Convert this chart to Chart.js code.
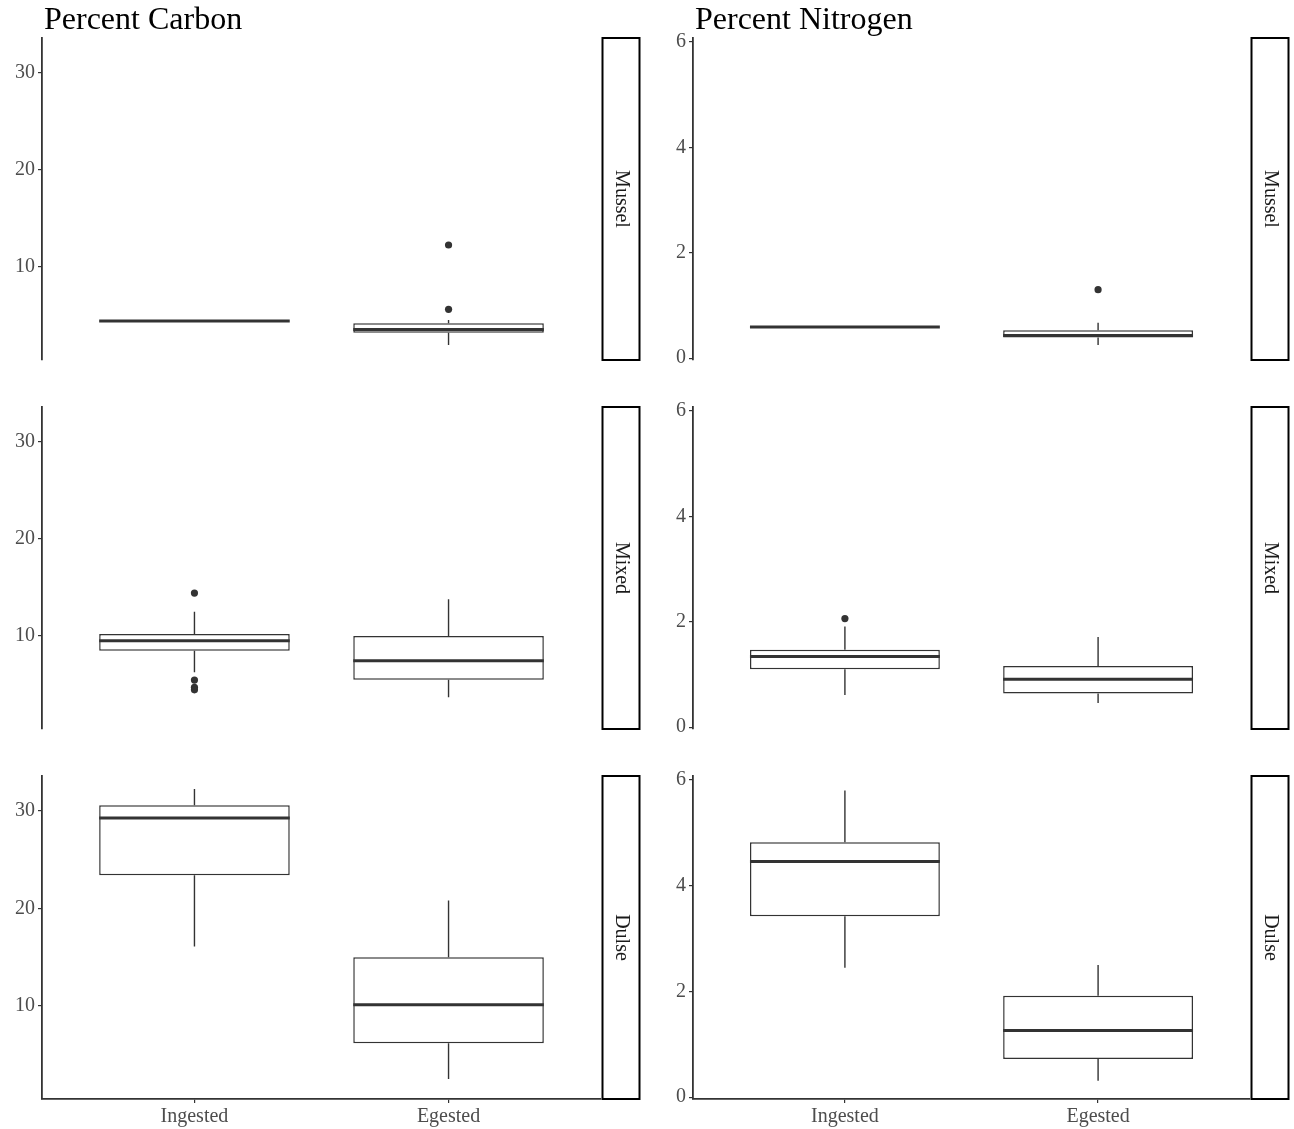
<!DOCTYPE html>
<html>
<head>
<meta charset="utf-8">
<script src="https://cdn.jsdelivr.net/npm/chart.js@4.4.1/dist/chart.umd.min.js"></script>
<style>
  html, body { margin: 0; padding: 0; background: #ffffff; }
  #fig { position: relative; width: 1294px; height: 1129px; overflow: hidden; background: #ffffff; }
  #fig canvas { position: absolute; }
</style>
</head>
<body>
<div id="fig"></div>
<script>
// ---- data -------------------------------------------------------------
const groups = ['Ingested', 'Egested'];
const facets = ['Mussel', 'Mixed', 'Dulse'];
const carbonTicks = [10, 20, 30];
const nitrogenTicks = [0, 2, 4, 6];

// Box-plot summaries: one row per facet (Mussel, Mixed, Dulse),
// one column per group (Ingested, Egested).
const carbonLow  = [[4.45, 1.96], [6.26, 3.68], [16.08, 2.47]];
const carbonQ1   = [[4.45, 3.23], [8.48, 5.50], [23.40, 6.15]];
const carbonMed  = [[4.45, 3.55], [9.52, 7.45], [29.28, 10.10]];
const carbonQ3   = [[4.45, 4.20], [10.20, 10.00], [30.60, 14.98]];
const carbonHigh = [[4.45, 4.54], [12.50, 13.80], [32.27, 20.80]];
const carbonOutliers = [[[], [5.64, 12.27]], [[14.43, 5.46, 4.71, 4.46], []], [[], []]];

const nitrogenLow  = [[0.59, 0.25], [0.61, 0.46], [2.45, 0.31]];
const nitrogenQ1   = [[0.59, 0.39], [1.10, 0.64], [3.42, 0.72]];
const nitrogenMed  = [[0.59, 0.43], [1.34, 0.91], [4.46, 1.26]];
const nitrogenQ3   = [[0.59, 0.53], [1.47, 1.16], [4.82, 1.92]];
const nitrogenHigh = [[0.59, 0.67], [1.91, 1.71], [5.80, 2.50]];
const nitrogenOutliers = [[[], [1.30]], [[2.06], []], [[], []]];

// ---- layout / style ---------------------------------------------------
const FONT = "'Liberation Serif', 'Times New Roman', serif";
const INK = '#333333';
const TICK_TEXT = '#4d4d4d';
const BOX_WIDTH = 0.75;
const Y_AXIS_W = 40;
const X_AXIS_H = 30;

const COLS = [
  { left: 0,   width: 647, areaLeft: 42,  areaRight: 601 },
  { left: 647, width: 647, areaLeft: 693, areaRight: 1250 }
];
const ROWS = [
  { top: 0,   height: 384, areaTop: 38,  areaBottom: 360 },
  { top: 384, height: 368, areaTop: 407, areaBottom: 729 },
  { top: 752, height: 377, areaTop: 776, areaBottom: 1099 }
];

const measures = [
  { title: 'Percent Carbon', ticks: carbonTicks, min: 0.42, max: 33.6,
    low: carbonLow, q1: carbonQ1, med: carbonMed, q3: carbonQ3, high: carbonHigh, out: carbonOutliers },
  { title: 'Percent Nitrogen', ticks: nitrogenTicks, min: -0.035, max: 6.075,
    low: nitrogenLow, q1: nitrogenQ1, med: nitrogenMed, q3: nitrogenQ3, high: nitrogenHigh, out: nitrogenOutliers }
];

// Strip label on the right of each panel plus the column title.
const facetDecor = {
  id: 'facetDecor',
  afterDraw(chart, args, opts) {
    const { ctx, chartArea } = chart;
    ctx.save();
    const x0 = chartArea.right + 1.5;
    const x1 = chartArea.right + 38.5;
    const y0 = chartArea.top;
    const y1 = chartArea.bottom;
    ctx.fillStyle = '#ffffff';
    ctx.fillRect(x0, y0, x1 - x0, y1 - y0);
    ctx.strokeStyle = '#000000';
    ctx.lineWidth = 2;
    ctx.strokeRect(x0, y0, x1 - x0, y1 - y0);
    ctx.translate((x0 + x1) / 2, (y0 + y1) / 2);
    ctx.rotate(Math.PI / 2);
    ctx.fillStyle = '#1a1a1a';
    ctx.font = '20px ' + FONT;
    ctx.textAlign = 'center';
    ctx.textBaseline = 'middle';
    ctx.fillText(opts.strip, 0, 0);
    ctx.restore();

    if (opts.title) {
      ctx.save();
      ctx.fillStyle = '#000000';
      ctx.font = '32px ' + FONT;
      ctx.textAlign = 'left';
      ctx.textBaseline = 'alphabetic';
      ctx.fillText(opts.title, chartArea.left + 2, 29);
      ctx.restore();
    }
  }
};

function whiskerPoints(m, r) {
  const pts = [];
  groups.forEach((g, i) => {
    const x = i + 1;
    pts.push({ x, y: m.low[r][i] }, { x, y: m.q1[r][i] }, { x, y: null });
    pts.push({ x, y: m.q3[r][i] }, { x, y: m.high[r][i] }, { x, y: null });
  });
  return pts;
}

function boxPoints(m, r) {
  return groups.map((g, i) => ({ x: i + 1, y: [m.q1[r][i], m.q3[r][i]] }));
}

function medianPoints(m, r) {
  const pts = [];
  groups.forEach((g, i) => {
    const x = i + 1;
    pts.push({ x: x - BOX_WIDTH / 2, y: m.med[r][i] }, { x: x + BOX_WIDTH / 2, y: m.med[r][i] }, { x, y: null });
  });
  return pts;
}

function outlierPoints(m, r) {
  const pts = [];
  groups.forEach((g, i) => {
    m.out[r][i].forEach(v => pts.push({ x: i + 1, y: v }));
  });
  return pts;
}

const fig = document.getElementById('fig');

measures.forEach((m, c) => {
  const col = COLS[c];
  facets.forEach((facet, r) => {
    const row = ROWS[r];
    const showX = r === facets.length - 1;
    const xAxisH = showX ? X_AXIS_H : 0;
    const canvas = document.createElement('canvas');
    canvas.width = col.width;
    canvas.height = row.height;
    canvas.style.left = col.left + 'px';
    canvas.style.top = row.top + 'px';
    canvas.style.width = col.width + 'px';
    canvas.style.height = row.height + 'px';
    fig.appendChild(canvas);

    const padding = {
      left: col.areaLeft - col.left - Y_AXIS_W,
      right: col.left + col.width - col.areaRight,
      top: row.areaTop - row.top,
      bottom: row.top + row.height - row.areaBottom - xAxisH
    };

    new Chart(canvas, {
      type: 'bar',
      data: {
        datasets: [
          { type: 'line', data: whiskerPoints(m, r), borderColor: INK, borderWidth: 1.4,
            pointRadius: 0, spanGaps: false, fill: false, order: 3 },
          { type: 'bar', data: boxPoints(m, r), backgroundColor: '#ffffff', borderColor: INK,
            borderWidth: 1.5, borderSkipped: false, barPercentage: BOX_WIDTH, categoryPercentage: 1, order: 2 },
          { type: 'line', data: medianPoints(m, r), borderColor: INK, borderWidth: 3,
            borderCapStyle: 'butt', pointRadius: 0, spanGaps: false, fill: false, order: 1 },
          { type: 'scatter', data: outlierPoints(m, r), pointRadius: 3.6, pointBackgroundColor: INK,
            pointBorderWidth: 0, showLine: false, order: 0 }
        ]
      },
      options: {
        responsive: false,
        animation: false,
        devicePixelRatio: 1,
        layout: { padding },
        plugins: {
          legend: { display: false },
          tooltip: { enabled: false },
          facetDecor: { strip: facet, title: r === 0 ? m.title : null }
        },
        scales: {
          x: {
            type: 'linear',
            min: 0.4,
            max: 2.6,
            offset: false,
            display: showX,
            afterBuildTicks: s => { s.ticks = groups.map((g, i) => ({ value: i + 1 })); },
            afterFit: s => { s.height = xAxisH; },
            ticks: {
              callback: v => groups[v - 1],
              color: TICK_TEXT,
              font: { family: FONT, size: 20 },
              padding: 2,
              autoSkip: false,
              maxRotation: 0
            },
            grid: { display: true, offset: false, drawOnChartArea: false, drawTicks: true,
                    tickLength: 4, color: INK, lineWidth: 1.2 },
            border: { display: true, color: INK, width: 1.8 }
          },
          y: {
            type: 'linear',
            min: m.min,
            max: m.max,
            afterBuildTicks: s => { s.ticks = m.ticks.map(v => ({ value: v })); },
            afterFit: s => { s.width = Y_AXIS_W; },
            ticks: {
              color: TICK_TEXT,
              font: { family: FONT, size: 20 },
              padding: 3
            },
            grid: { display: true, drawOnChartArea: false, drawTicks: true,
                    tickLength: 4, color: INK, lineWidth: 1.2 },
            border: { display: true, color: INK, width: 1.8 }
          }
        }
      },
      plugins: [facetDecor]
    });
  });
});
</script>
</body>
</html>
